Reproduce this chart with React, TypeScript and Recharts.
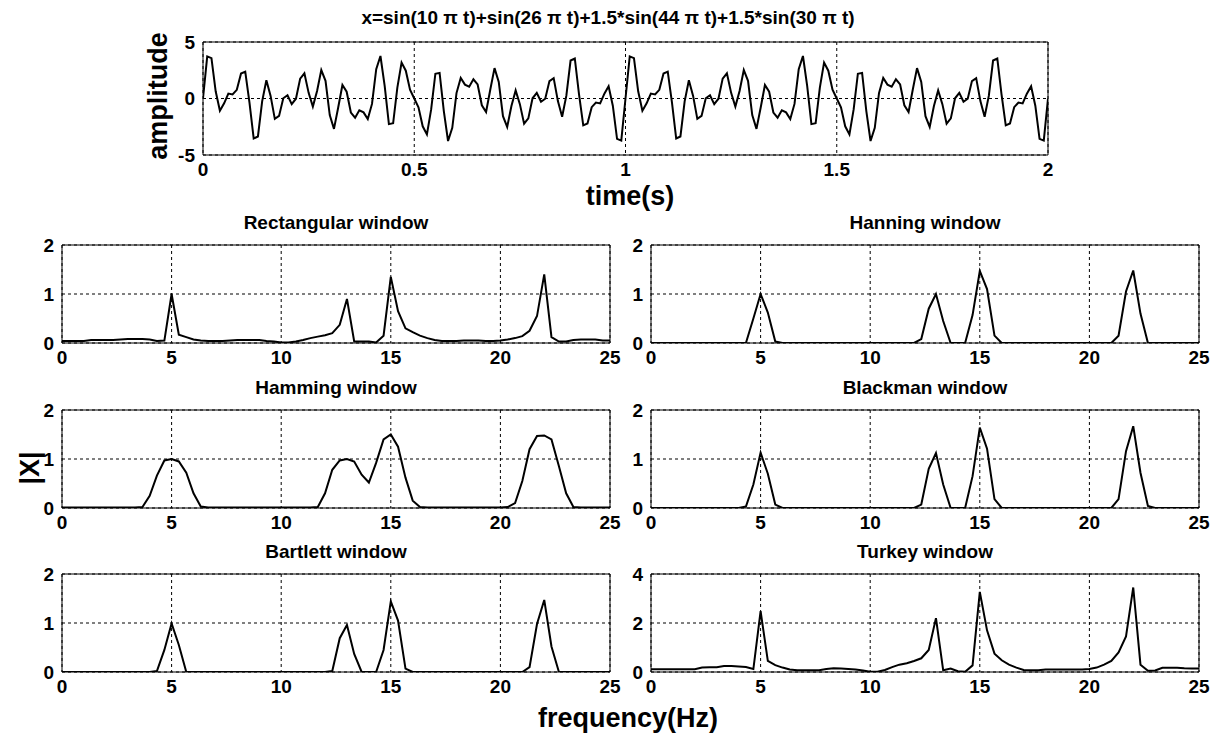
import React from "react";
import { LineChart, Line, XAxis, YAxis, CartesianGrid, ReferenceArea } from "recharts";

const FONT = '"Liberation Sans", Arial, Helvetica, sans-serif';

// time samples of the signal (s)
const time = [
  0, 0.01, 0.02, 0.03, 0.04, 0.05, 0.06, 0.07, 0.08, 0.09,
  0.1, 0.11, 0.12, 0.13, 0.14, 0.15, 0.16, 0.17, 0.18, 0.19,
  0.2, 0.21, 0.22, 0.23, 0.24, 0.25, 0.26, 0.27, 0.28, 0.29,
  0.3, 0.31, 0.32, 0.33, 0.34, 0.35, 0.36, 0.37, 0.38, 0.39,
  0.4, 0.41, 0.42, 0.43, 0.44, 0.45, 0.46, 0.47, 0.48, 0.49,
  0.5, 0.51, 0.52, 0.53, 0.54, 0.55, 0.56, 0.57, 0.58, 0.59,
  0.6, 0.61, 0.62, 0.63, 0.64, 0.65, 0.66, 0.67, 0.68, 0.69,
  0.7, 0.71, 0.72, 0.73, 0.74, 0.75, 0.76, 0.77, 0.78, 0.79,
  0.8, 0.81, 0.82, 0.83, 0.84, 0.85, 0.86, 0.87, 0.88, 0.89,
  0.9, 0.91, 0.92, 0.93, 0.94, 0.95, 0.96, 0.97, 0.98, 0.99,
  1, 1.01, 1.02, 1.03, 1.04, 1.05, 1.06, 1.07, 1.08, 1.09,
  1.1, 1.11, 1.12, 1.13, 1.14, 1.15, 1.16, 1.17, 1.18, 1.19,
  1.2, 1.21, 1.22, 1.23, 1.24, 1.25, 1.26, 1.27, 1.28, 1.29,
  1.3, 1.31, 1.32, 1.33, 1.34, 1.35, 1.36, 1.37, 1.38, 1.39,
  1.4, 1.41, 1.42, 1.43, 1.44, 1.45, 1.46, 1.47, 1.48, 1.49,
  1.5, 1.51, 1.52, 1.53, 1.54, 1.55, 1.56, 1.57, 1.58, 1.59,
  1.6, 1.61, 1.62, 1.63, 1.64, 1.65, 1.66, 1.67, 1.68, 1.69,
  1.7, 1.71, 1.72, 1.73, 1.74, 1.75, 1.76, 1.77, 1.78, 1.79,
  1.8, 1.81, 1.82, 1.83, 1.84, 1.85, 1.86, 1.87, 1.88, 1.89,
  1.9, 1.91, 1.92, 1.93, 1.94, 1.95, 1.96, 1.97, 1.98, 1.99,
  2,
];

const amplitude = [
  0, 3.73, 3.57, 0.64, -1.08, -0.43, 0.44, 0.36, 0.77, 2.21,
  2.38, -0.37, -3.54, -3.36, -0.25, 1.62, 0.23, -1.8, -1.54, 0.02,
  0.29, -0.5, -0.02, 1.76, 2.23, 0.5, -0.72, 0.66, 2.51, 1.56,
  -1.47, -2.69, -0.8, 1.19, 0.6, -1.24, -1.7, -1.05, -1.23, -1.82,
  -0.48, 2.59, 3.76, 1.11, -2.27, -2.19, 0.97, 3.18, 2.46, 0.78,
  0, -0.78, -2.46, -3.18, -0.97, 2.19, 2.27, -1.11, -3.76, -2.59,
  0.48, 1.82, 1.23, 1.05, 1.7, 1.24, -0.6, -1.19, 0.8, 2.69,
  1.47, -1.56, -2.51, -0.66, 0.72, -0.5, -2.23, -1.76, 0.02, 0.5,
  -0.29, -0.02, 1.54, 1.8, -0.23, -1.62, 0.25, 3.36, 3.54, 0.37,
  -2.38, -2.21, -0.77, -0.36, -0.44, 0.43, 1.08, -0.64, -3.57, -3.73,
  0, 3.73, 3.57, 0.64, -1.08, -0.43, 0.44, 0.36, 0.77, 2.21,
  2.38, -0.37, -3.54, -3.36, -0.25, 1.62, 0.23, -1.8, -1.54, 0.02,
  0.29, -0.5, -0.02, 1.76, 2.23, 0.5, -0.72, 0.66, 2.51, 1.56,
  -1.47, -2.69, -0.8, 1.19, 0.6, -1.24, -1.7, -1.05, -1.23, -1.82,
  -0.48, 2.59, 3.76, 1.11, -2.27, -2.19, 0.97, 3.18, 2.46, 0.78,
  0, -0.78, -2.46, -3.18, -0.97, 2.19, 2.27, -1.11, -3.76, -2.59,
  0.48, 1.82, 1.23, 1.05, 1.7, 1.24, -0.6, -1.19, 0.8, 2.69,
  1.47, -1.56, -2.51, -0.66, 0.72, -0.5, -2.23, -1.76, 0.02, 0.5,
  -0.29, -0.02, 1.54, 1.8, -0.23, -1.62, 0.25, 3.36, 3.54, 0.37,
  -2.38, -2.21, -0.77, -0.36, -0.44, 0.43, 1.08, -0.64, -3.57, -3.73,
  0,
];

const timeTicks = [0, 0.5, 1, 1.5, 2];
const amplitudeTicks = [-5, 0, 5];

// frequency bins (Hz)
const freq = [
  0, 0.33, 0.67, 1, 1.33, 1.67, 2, 2.33, 2.67, 3,
  3.33, 3.67, 4, 4.33, 4.67, 5, 5.33, 5.67, 6, 6.33,
  6.67, 7, 7.33, 7.67, 8, 8.33, 8.67, 9, 9.33, 9.67,
  10, 10.33, 10.67, 11, 11.33, 11.67, 12, 12.33, 12.67, 13,
  13.33, 13.67, 14, 14.33, 14.67, 15, 15.33, 15.67, 16, 16.33,
  16.67, 17, 17.33, 17.67, 18, 18.33, 18.67, 19, 19.33, 19.67,
  20, 20.33, 20.67, 21, 21.33, 21.67, 22, 22.33, 22.67, 23,
  23.33, 23.67, 24, 24.33, 24.67, 25,
];
const freqTicks = [0, 5, 10, 15, 20, 25];
const magTicks = [0, 1, 2];
const turkeyTicks = [0, 2, 4];

const rectangular = [
  0.04, 0.04, 0.04, 0.04, 0.06, 0.06, 0.06, 0.06, 0.07, 0.08,
  0.08, 0.08, 0.07, 0.04, 0.05, 1.0, 0.17, 0.12, 0.07, 0.05,
  0.04, 0.04, 0.04, 0.05, 0.06, 0.06, 0.06, 0.06, 0.04, 0.03,
  0.01, 0.01, 0.03, 0.06, 0.1, 0.13, 0.16, 0.2, 0.37, 0.9,
  0.03, 0.03, 0.03, 0.01, 0.15, 1.35, 0.65, 0.3, 0.22, 0.15,
  0.1, 0.06, 0.04, 0.04, 0.04, 0.05, 0.05, 0.05, 0.04, 0.04,
  0.05, 0.07, 0.1, 0.14, 0.25, 0.55, 1.4, 0.12, 0.03, 0.03,
  0.06, 0.07, 0.07, 0.07, 0.05, 0.05,
];

const hanning = [
  0, 0, 0, 0, 0, 0, 0, 0, 0, 0,
  0, 0, 0, 0, 0.5, 1.0, 0.62, 0.03, 0, 0,
  0, 0, 0, 0, 0, 0, 0, 0, 0, 0,
  0, 0, 0, 0, 0, 0, 0, 0.08, 0.7, 1.0,
  0.45, 0, 0, 0, 0.57, 1.47, 1.1, 0.15, 0, 0,
  0, 0, 0, 0, 0, 0, 0, 0, 0, 0,
  0, 0, 0, 0, 0.15, 1.05, 1.48, 0.6, 0, 0,
  0, 0, 0, 0, 0, 0,
];

const hamming = [
  0.01, 0.01, 0.01, 0.01, 0.01, 0.01, 0.01, 0.01, 0.01, 0.01,
  0.01, 0.02, 0.25, 0.66, 0.97, 1.0, 0.95, 0.72, 0.3, 0.03,
  0.01, 0.01, 0.01, 0.01, 0.01, 0.01, 0.01, 0.01, 0.01, 0.01,
  0.01, 0.01, 0.01, 0.01, 0.01, 0.02, 0.3, 0.78, 0.97, 1.0,
  0.95, 0.68, 0.52, 0.92, 1.4, 1.5, 1.25, 0.62, 0.15, 0.02,
  0.01, 0.01, 0.01, 0.01, 0.01, 0.01, 0.01, 0.01, 0.01, 0.01,
  0.01, 0.02, 0.1, 0.55, 1.2, 1.47, 1.48, 1.4, 0.85, 0.3,
  0.02, 0.01, 0.01, 0.01, 0.01, 0.01,
];

const blackman = [
  0, 0, 0, 0, 0, 0, 0, 0, 0, 0,
  0, 0, 0, 0.03, 0.48, 1.13, 0.7, 0.07, 0, 0,
  0, 0, 0, 0, 0, 0, 0, 0, 0, 0,
  0, 0, 0, 0, 0, 0, 0, 0.07, 0.8, 1.12,
  0.48, 0, 0, 0, 0.65, 1.64, 1.21, 0.18, 0, 0,
  0, 0, 0, 0, 0, 0, 0, 0, 0, 0,
  0, 0, 0, 0, 0.18, 1.16, 1.67, 0.72, 0.04, 0,
  0, 0, 0, 0, 0, 0,
];

const bartlett = [
  0, 0, 0, 0, 0, 0, 0, 0, 0, 0,
  0, 0, 0, 0.02, 0.45, 0.99, 0.55, 0, 0, 0,
  0, 0, 0, 0, 0, 0, 0, 0, 0, 0,
  0, 0, 0, 0, 0, 0, 0, 0.02, 0.69, 0.96,
  0.37, 0, 0, 0, 0.45, 1.44, 1.05, 0.07, 0, 0,
  0, 0, 0, 0, 0, 0, 0, 0, 0, 0,
  0, 0, 0, 0, 0.1, 0.98, 1.47, 0.52, 0, 0,
  0, 0, 0, 0, 0, 0,
];

const turkey = [
  0.11, 0.11, 0.11, 0.11, 0.11, 0.11, 0.11, 0.18, 0.19, 0.19,
  0.24, 0.24, 0.22, 0.2, 0.12, 2.48, 0.45, 0.28, 0.18, 0.1,
  0.07, 0.07, 0.07, 0.07, 0.12, 0.15, 0.14, 0.12, 0.1, 0.06,
  0.01, 0.01, 0.08, 0.2, 0.3, 0.36, 0.45, 0.56, 0.9, 2.2,
  0.07, 0.14, 0.03, 0.01, 0.27, 3.27, 1.7, 0.75, 0.48, 0.3,
  0.18, 0.08, 0.07, 0.07, 0.1, 0.1, 0.1, 0.1, 0.1, 0.1,
  0.12, 0.18, 0.3, 0.45, 0.8, 1.45, 3.45, 0.3, 0.05, 0.06,
  0.17, 0.17, 0.17, 0.15, 0.14, 0.14,
];

type Point = { x: number; y: number };

type PlotProps = {
  data: Point[];
  left: number;
  top: number;
  width: number;
  height: number;
  xTicks: number[];
  yTicks: number[];
};

const tickStyle = { fill: "#000", fontSize: 19, fontWeight: 700, fontFamily: FONT };

function Plot({ data, left, top, width, height, xTicks, yTicks }: PlotProps) {
  const yAxisW = 50;
  const xAxisH = 34;
  const padT = 10;
  const padR = 24;
  const xMin = xTicks[0];
  const xMax = xTicks[xTicks.length - 1];
  const yMin = yTicks[0];
  const yMax = yTicks[yTicks.length - 1];
  return (
    <div style={{ position: "absolute", left: left - yAxisW, top: top - padT }}>
      <LineChart
        width={width + yAxisW + padR}
        height={height + padT + xAxisH}
        data={data}
        margin={{ top: padT, right: padR, bottom: 0, left: 0 }}
      >
        <CartesianGrid stroke="#000" strokeDasharray="3 3" />
        <XAxis
          type="number"
          dataKey="x"
          domain={[xMin, xMax]}
          ticks={xTicks}
          interval={0}
          axisLine={false}
          tickLine={false}
          tick={tickStyle}
          height={xAxisH}
          allowDataOverflow
        />
        <YAxis
          type="number"
          domain={[yMin, yMax]}
          ticks={yTicks}
          interval={0}
          axisLine={false}
          tickLine={false}
          tick={tickStyle}
          width={yAxisW}
          allowDataOverflow
        />
        <Line
          type="linear"
          dataKey="y"
          stroke="#000"
          strokeWidth={2}
          dot={false}
          isAnimationActive={false}
        />
        <ReferenceArea
          x1={xMin}
          x2={xMax}
          y1={yMin}
          y2={yMax}
          fill="none"
          stroke="#000"
          strokeWidth={1}
          ifOverflow="visible"
        />
      </LineChart>
    </div>
  );
}

function Label({ x, y, size, rotate, children }: { x: number; y: number; size: number; rotate?: boolean; children: React.ReactNode }) {
  return (
    <div
      style={{
        position: "absolute",
        left: x,
        top: y,
        transform: `translate(-50%, -50%)${rotate ? " rotate(-90deg)" : ""}`,
        fontSize: size,
        fontWeight: 700,
        fontFamily: FONT,
        whiteSpace: "nowrap",
        lineHeight: 1,
      }}
    >
      {children}
    </div>
  );
}

const toPoints = (values: number[]) => freq.map((f, i) => ({ x: f, y: values[i] }));

const COL_LEFT = [62, 651];
const COL_W = 548;
const ROW_TOP = [245, 410, 574];
const ROW_H = 98;

const panels = [
  { title: "Rectangular window", values: rectangular, col: 0, row: 0, yTicks: magTicks },
  { title: "Hanning window", values: hanning, col: 1, row: 0, yTicks: magTicks },
  { title: "Hamming window", values: hamming, col: 0, row: 1, yTicks: magTicks },
  { title: "Blackman window", values: blackman, col: 1, row: 1, yTicks: magTicks },
  { title: "Bartlett window", values: bartlett, col: 0, row: 2, yTicks: magTicks },
  { title: "Turkey window", values: turkey, col: 1, row: 2, yTicks: turkeyTicks },
];

export default function App() {
  const signal = time.map((t, i) => ({ x: t, y: amplitude[i] }));
  return (
    <div
      style={{
        position: "absolute",
        left: 0,
        top: 0,
        width: 1219,
        height: 734,
        background: "#fff",
        color: "#000",
        overflow: "hidden",
      }}
    >
      <Label x={608} y={17} size={19}>
        x=sin(10 π t)+sin(26 π t)+1.5*sin(44 π t)+1.5*sin(30 π t)
      </Label>
      <Plot data={signal} left={203} top={42} width={845} height={113} xTicks={timeTicks} yTicks={amplitudeTicks} />
      <Label x={158} y={96} size={27} rotate>
        amplitude
      </Label>
      <Label x={630} y={196} size={27}>
        time(s)
      </Label>

      {panels.map((p) => (
        <React.Fragment key={p.title}>
          <Label x={COL_LEFT[p.col] + COL_W / 2} y={ROW_TOP[p.row] - 23} size={19}>
            {p.title}
          </Label>
          <Plot
            data={toPoints(p.values)}
            left={COL_LEFT[p.col]}
            top={ROW_TOP[p.row]}
            width={COL_W}
            height={ROW_H}
            xTicks={freqTicks}
            yTicks={p.yTicks}
          />
        </React.Fragment>
      ))}

      <Label x={30} y={468} size={27} rotate>
        |X|
      </Label>
      <Label x={628} y={718} size={27}>
        frequency(Hz)
      </Label>
    </div>
  );
}
